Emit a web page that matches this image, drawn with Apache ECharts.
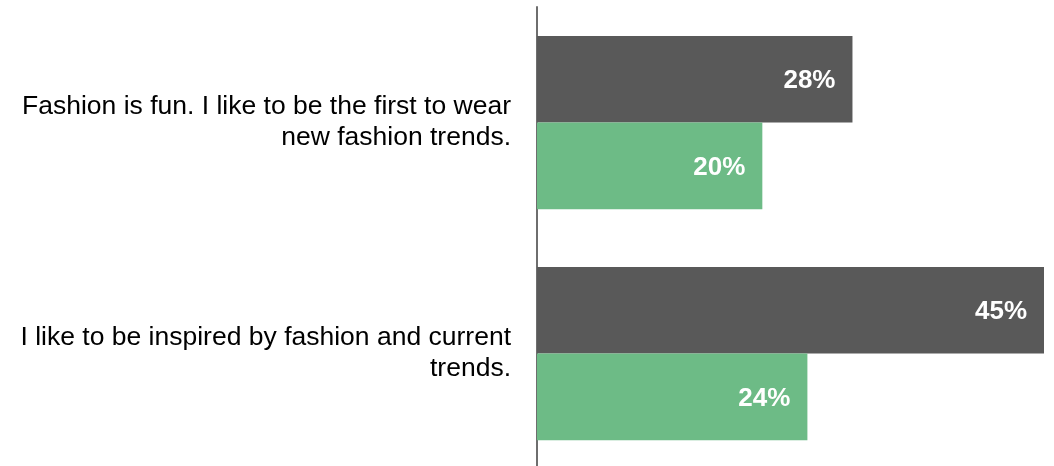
<!DOCTYPE html>
<html>
<head>
<meta charset="utf-8">
<style>
  html, body { margin: 0; padding: 0; background: #ffffff; overflow: hidden; }
  /* canvas is a few pixels taller than the window so the axis runs off the bottom edge */
  #chart { width: 1054px; height: 470px; }
</style>
<script src="https://cdn.jsdelivr.net/npm/echarts@6/dist/echarts.min.js"></script>
</head>
<body>
<div id="chart"></div>
<script>
// Statements shown on the category axis (top to bottom)
const categories = [
  'Fashion is fun. I like to be the first to wear\nnew fashion trends.',
  'I like to be inspired by fashion and current\ntrends.'
];
// Share of respondents agreeing, in percent
const darkValues = [28, 45];
const greenValues = [20, 24];

const chart = echarts.init(document.getElementById('chart'), null, { renderer: 'canvas' });

const barLabel = {
  show: true,
  position: 'insideRight',
  distance: 17,
  offset: [0, 2],
  formatter: '{c}%',
  color: '#ffffff',
  fontFamily: 'Liberation Sans, Arial, sans-serif',
  fontWeight: 'bold',
  fontSize: 26
};

chart.setOption({
  animation: false,
  backgroundColor: '#ffffff',
  grid: { left: 537, top: 7, width: 507, height: 462, containLabel: false },
  xAxis: {
    type: 'value',
    min: 0,
    max: 45,
    show: false
  },
  yAxis: {
    type: 'category',
    data: categories,
    inverse: true,
    offset: 1,
    axisLine: { show: true, lineStyle: { color: '#6e6e6e', width: 2 } },
    axisTick: { show: false },
    splitLine: { show: false },
    axisLabel: {
      margin: 25,
      align: 'right',
      color: '#000000',
      fontFamily: 'Liberation Sans, Arial, sans-serif',
      fontSize: 26.5,
      lineHeight: 31
    }
  },
  series: [
    {
      name: 'Dark',
      type: 'bar',
      data: darkValues,
      barGap: '0%',
      barCategoryGap: '25%',
      itemStyle: { color: '#595959' },
      label: barLabel
    },
    {
      name: 'Green',
      type: 'bar',
      data: greenValues,
      barGap: '0%',
      barCategoryGap: '25%',
      itemStyle: { color: '#6dbb86' },
      label: barLabel
    }
  ]
});
</script>
</body>
</html>
